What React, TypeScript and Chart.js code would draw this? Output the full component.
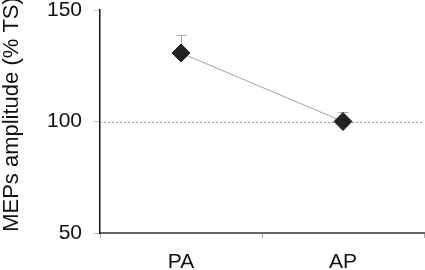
import React, { useEffect, useRef } from "react";
import { Chart, registerables } from "chart.js";

Chart.register(...registerables);

const categories = ["PA", "AP"];
const meanValues = [130.7, 100];
const upperErrors = [138.8, 104.2];
const referenceValue = 100;
const yTicks = [50, 100, 150];
const yAxisTitle = "MEPs amplitude (% TS)";

const FONT = "'Liberation Sans', Arial, sans-serif";

const errorBarPlugin = {
  id: "errorBars",
  beforeDatasetsDraw(chart: any) {
    const { ctx, scales } = chart;
    const x = scales.x;
    const y = scales.y;
    ctx.save();
    const yr = Math.round(y.getPixelForValue(referenceValue)) + 0.5;
    ctx.strokeStyle = "#999";
    ctx.lineWidth = 1;
    ctx.setLineDash([2, 2]);
    ctx.beginPath();
    ctx.moveTo(chart.chartArea.left, yr);
    ctx.lineTo(chart.chartArea.right, yr);
    ctx.stroke();
    ctx.setLineDash([]);
    ctx.strokeStyle = "#aaa";
    ctx.lineWidth = 1;
    categories.forEach((c, i) => {
      const px = Math.round(x.getPixelForValue(i)) + 0.5;
      const y0 = y.getPixelForValue(meanValues[i]);
      const y1 = Math.round(y.getPixelForValue(upperErrors[i])) + 0.5;
      ctx.beginPath();
      ctx.moveTo(px, y0);
      ctx.lineTo(px, y1);
      ctx.moveTo(px - 5, y1);
      ctx.lineTo(px + 5, y1);
      ctx.stroke();
    });
    ctx.restore();
  },
};

const yTitlePlugin = {
  id: "yTitle",
  afterDraw(chart: any) {
    const { ctx, chartArea } = chart;
    ctx.save();
    ctx.font = `22px ${FONT}`;
    ctx.fillStyle = "#111";
    ctx.textAlign = "center";
    ctx.textBaseline = "alphabetic";
    const cy = (chartArea.top + chartArea.bottom) / 2 - 7;
    ctx.translate(17.5, cy);
    ctx.rotate(-Math.PI / 2);
    ctx.fillText(yAxisTitle, 0, 0);
    ctx.restore();
  },
};

export default function App() {
  const ref = useRef<HTMLCanvasElement | null>(null);
  useEffect(() => {
    if (!ref.current) return;
    const chart = new Chart(ref.current, {
      type: "line",
      data: {
        labels: categories,
        datasets: [
          {
            data: meanValues,
            borderColor: "#a0a0a0",
            borderWidth: 1,
            pointStyle: "rectRot",
            pointRadius: 9,
            pointBackgroundColor: "#222",
            pointBorderColor: "#222",
            pointBorderWidth: 1,
          },
        ],
      },
      options: {
        responsive: false,
        animation: false,
        layout: { autoPadding: false, padding: { top: 10, right: 1, left: 0, bottom: 0 } },
        plugins: { legend: { display: false }, tooltip: { enabled: false } },
        scales: {
          x: {
            type: "category",
            offset: true,
            grid: {
              offset: true,
              drawOnChartArea: false,
              drawTicks: true,
              tickLength: 5,
              tickColor: "#aaa",
              color: "#aaa",
            },
            border: { display: true, color: "#666", width: 2 },
            ticks: {
              color: "#111",
              font: { family: FONT, size: 21, lineHeight: 1 },
              padding: 14,
            },
            afterFit(scale: any) {
              scale.height = 37;
              scale.paddingLeft = 0;
              scale.paddingRight = 0;
            },
          },
          y: {
            min: 50,
            max: 150,
            afterBuildTicks(scale: any) {
              scale.ticks = yTicks.map((v) => ({ value: v }));
            },
            grid: {
              drawOnChartArea: false,
              drawTicks: true,
              tickLength: 6,
              tickColor: "#bbb",
              color: "#bbb",
            },
            border: { display: true, color: "#111", width: 1.5 },
            ticks: {
              color: "#111",
              font: { family: FONT, size: 21, lineHeight: 1 },
              padding: 12,
            },
            title: { display: false },
            afterFit(scale: any) {
              scale.width = 100;
              scale.paddingTop = 0;
              scale.paddingBottom = 0;
            },
          },
        },
      },
      plugins: [errorBarPlugin, yTitlePlugin],
    });
    return () => chart.destroy();
  }, []);
  return (
    <div style={{ position: "fixed", left: 0, top: 0, width: 425, height: 270, background: "#fff" }}>
      <canvas ref={ref} width={425} height={270} />
    </div>
  );
}
